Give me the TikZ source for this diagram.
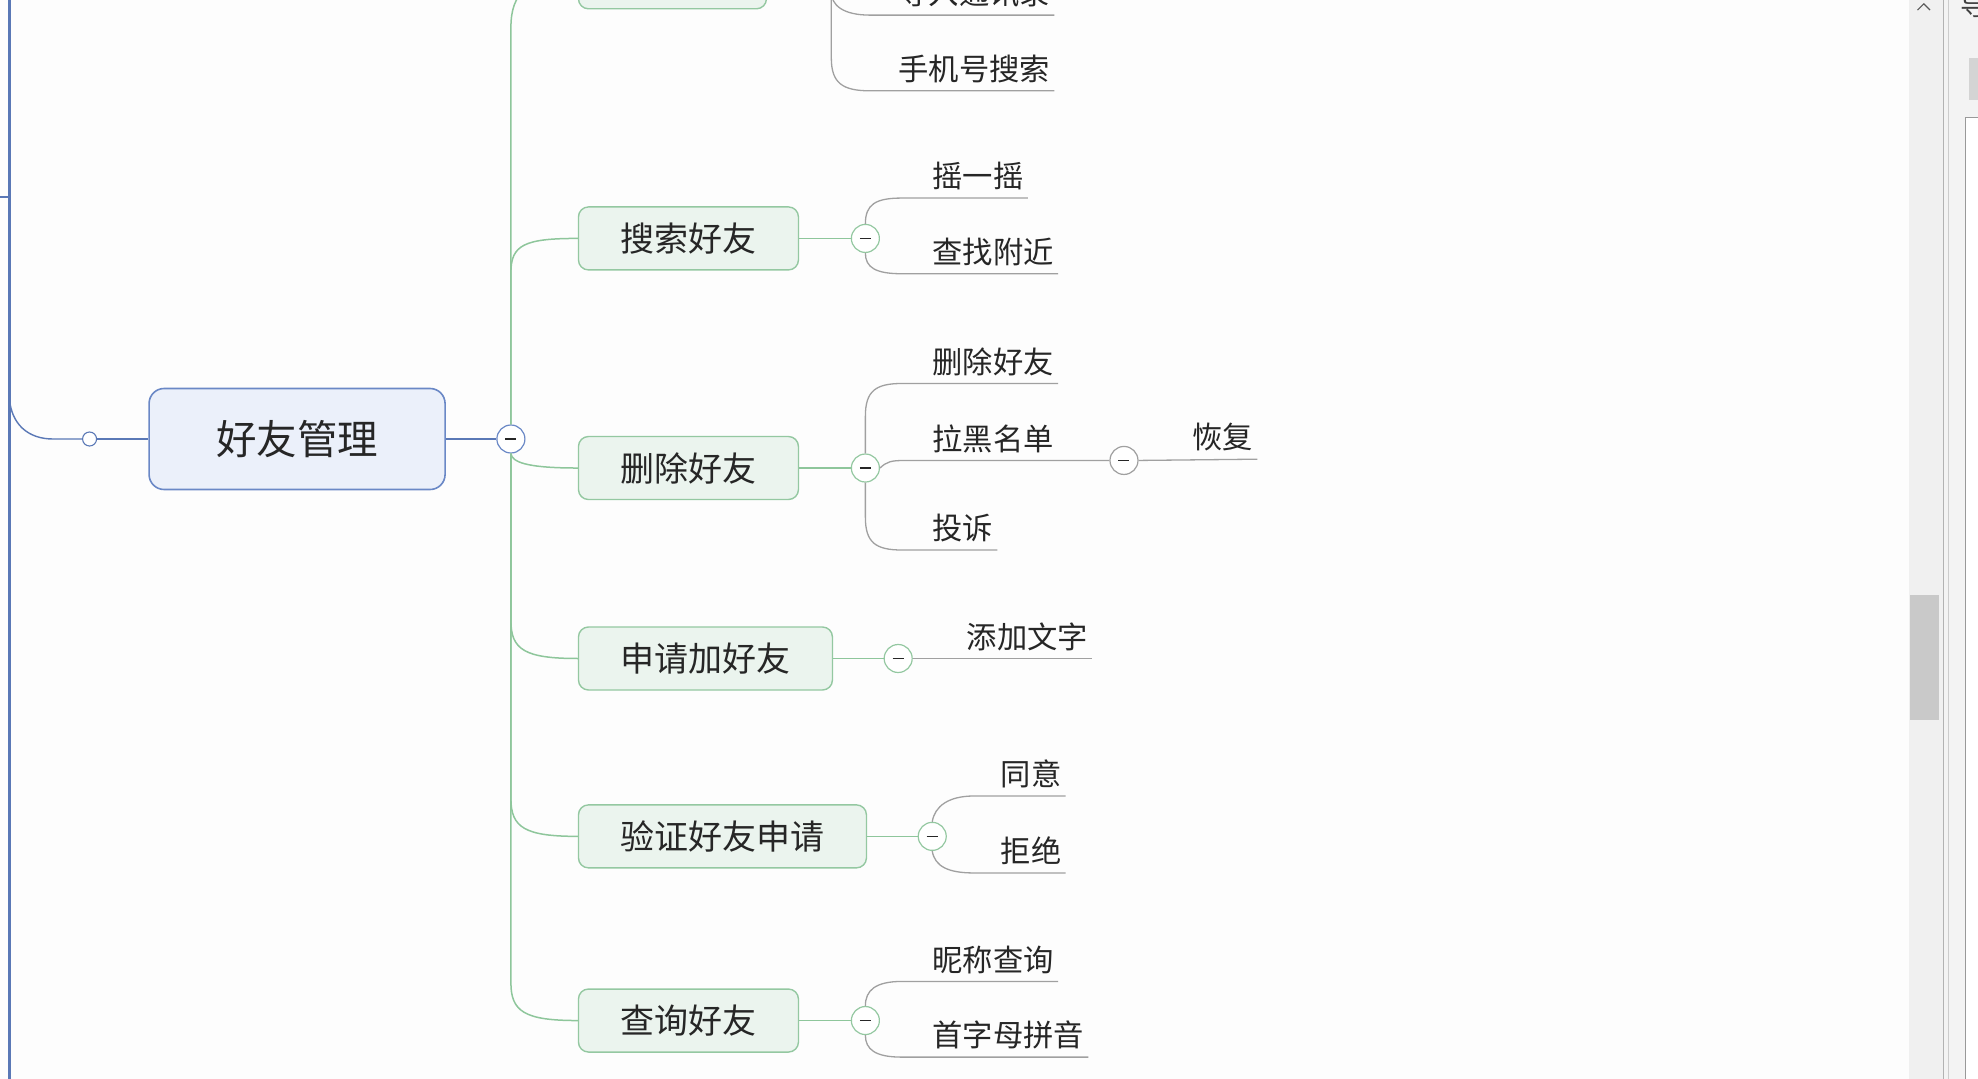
\documentclass[tikz,border=0pt]{standalone}
\usepackage{fontspec}
\newfontfamily\cjk{Noto Sans CJK SC}
\definecolor{paper}{HTML}{FDFDFD}
\definecolor{ink}{HTML}{262626}
\definecolor{rootfill}{HTML}{EBF0FA}
\definecolor{rootline}{HTML}{6A88C6}
\definecolor{spineblue}{HTML}{5A78B6}
\definecolor{topicfill}{HTML}{EBF4EE}
\definecolor{topicline}{HTML}{94C8A1}
\definecolor{branchgreen}{HTML}{8EC69B}
\definecolor{twiggrey}{HTML}{A0A0A0}
\definecolor{trackgrey}{HTML}{F0F0F0}
\definecolor{thumbgrey}{HTML}{C9C9C9}
\definecolor{panelgrey}{HTML}{F3F3F3}
\begin{document}
\begin{tikzpicture}[x=1.2615pt,y=-1.2615pt,
  root/.style={draw=rootline, fill=rootfill, line width=1.6pt, rounded corners=15pt,
    minimum width=296pt, minimum height=101pt, inner sep=0pt,
    font=\cjk\fontsize{40.5}{48}\selectfont, text=ink},
  topic/.style={draw=topicline, fill=topicfill, line width=1.4pt, rounded corners=10pt,
    minimum height=63pt, inner xsep=42pt, inner ysep=0pt, anchor=west,
    font=\cjk\fontsize{34}{40}\selectfont, text=ink},
  leaf/.style={anchor=south west, inner xsep=4pt, inner ysep=10pt, text depth=0pt,
    font=\cjk\fontsize{30.3}{36}\selectfont, text=ink},
  foldmark/.style={circle, draw=#1, fill=white, line width=1.2pt, minimum size=28pt,
    inner sep=0pt, path picture={\draw[ink, line width=1.5pt]
      ([xshift=-5.5pt]path picture bounding box.center) --
      ([xshift=5.5pt]path picture bounding box.center);}},
  dotmark/.style={circle, draw=spineblue, fill=white, line width=1.1pt,
    minimum size=14pt, inner sep=0pt},
  spine/.style={draw=spineblue, line width=1.4pt},
  trunk/.style={draw=branchgreen, line width=1.5pt},
  twig/.style={draw=twiggrey, line width=1.3pt}]

\useasboundingbox (0,0) rectangle (1568,855);
\fill[paper] (0,0) rectangle (1568,855);

\begin{scope}
\clip (0,0) rectangle (1568,855);

% parent spine on the far left
\draw[spine, line width=2.4pt] (7.5,-10) -- (7.5,870);
\draw[spine, line width=2pt] (0,156) -- (7.5,156);
\coordinate (sj) at (7.5,316);

% root topic
\node[root] (root) at (235.5,348) {好友管理};
\node[dotmark] (rd) at (71,348) {};
\node[foldmark=rootline] (rf) at (405,348) {};
\draw[spine] (sj) .. controls (9,336) and (22,348) .. (42,348) -- (rd.west);
\draw[spine] (rd.east) -- (root.west);
\draw[spine] (root.east) -- (rf.west);

% main topics
\node[topic, minimum width=188pt] (t0) at (458,-18) {};
\node[topic] (t1) at (458,189) {搜索好友};
\node[topic] (t2) at (458,371) {删除好友};
\node[topic] (t3) at (458,522) {申请加好友};
\node[topic] (t4) at (458,663) {验证好友申请};
\node[topic] (t5) at (458,809) {查询好友};

% trunk and branches
\draw[trunk] (rf.north) -- (405,22) .. controls (405,-6) and (418,-18) .. (t0.west);
\draw[trunk] (rf.north) -- (405,216) .. controls (405,194) and (416,189) .. (t1.west);
\draw[trunk] (rf.south) .. controls (406,366) and (416,371) .. (t2.west);
\draw[trunk] (rf.south) -- (405,492) .. controls (405,515) and (416,522) .. (t3.west);
\draw[trunk] (rf.south) -- (405,633) .. controls (405,656) and (416,663) .. (t4.west);
\draw[trunk] (rf.south) -- (405,779) .. controls (405,802) and (416,809) .. (t5.west);

% fold marks of the topics
\node[foldmark=topicline] (f0) at (659,-18) {};
\node[foldmark=topicline] (f1) at (686,189) {};
\node[foldmark=topicline] (f2) at (686,371) {};
\node[foldmark=topicline] (f3) at (712,522) {};
\node[foldmark=topicline] (f4) at (739,663) {};
\node[foldmark=topicline] (f5) at (686,809) {};
\foreach \i in {0,...,5} {\draw[trunk] (t\i.east) -- (f\i.west);}

% leaves
\node[leaf] (l01) at (709,12) {导入通讯录};
\node[leaf] (l02) at (709,72) {手机号搜索};
\node[leaf] (l11) at (736,157) {摇一摇};
\node[leaf] (l12) at (736,217) {查找附近};
\node[leaf] (l21) at (736,304) {删除好友};
\node[leaf] (l22) at (736,365) {拉黑名单};
\node[leaf] (l23) at (736,436) {投诉};
\node[leaf] (l31) at (763,522) {添加文字};
\node[leaf] (l41) at (790,631) {同意};
\node[leaf] (l42) at (790,692) {拒绝};
\node[leaf] (l51) at (736,778) {昵称查询};
\node[leaf] (l52) at (736,838) {首字母拼音};

% second-level fold mark and leaf
\node[foldmark=twiggrey] (g1) at (891,365) {};
\node[leaf] (l3) at (942,364) {恢复};

% leaf connectors
\draw[twig] (f0.south) .. controls (659,4) and (668,12) .. (690,12) -- (l01.south east);
\draw[twig] (f0.south) -- (659,46) .. controls (659,66) and (668,72) .. (690,72) -- (l02.south east);

\draw[twig] (f1.north) .. controls (686,162) and (694,157) .. (715,157) -- (l11.south east);
\draw[twig] (f1.south) .. controls (686,212) and (694,217) .. (715,217) -- (l12.south east);

\draw[twig] (f2.north) -- (686,330) .. controls (686,310) and (694,304) .. (715,304) -- (l21.south east);
\draw[twig] (f2.east) .. controls (703,366) and (706,365) .. (718,365) -- (g1.west);
\draw[twig] (f2.south) -- (686,410) .. controls (686,430) and (694,436) .. (715,436) -- (l23.south east);
\draw[twig] (g1.east) -- (l3.south east);

\draw[twig] (f3.east) -- (l31.south east);

\draw[twig] (f4.north) .. controls (741,639) and (752,631) .. (772,631) -- (l41.south east);
\draw[twig] (f4.south) .. controls (741,687) and (752,692) .. (772,692) -- (l42.south east);

\draw[twig] (f5.north) .. controls (686,785) and (694,778) .. (715,778) -- (l51.south east);
\draw[twig] (f5.south) .. controls (686,832) and (694,838) .. (715,838) -- (l52.south east);

% window edge: scroll bar and side panel
\fill[trackgrey] (1513,0) rectangle (1540,855);
\fill[thumbgrey] (1514,472) rectangle (1537,571);
\draw[black!65, line width=1.1pt] (1520,8) -- (1525,3) -- (1530,8);
\fill[panelgrey] (1541,0) rectangle (1568,855);
\draw[black!30, line width=1pt] (1541,0) -- (1541,855);
\draw[black!20, line width=1pt] (1544.5,0) -- (1544.5,855);
\node[anchor=north west, inner sep=0pt, text=black!75,
  font=\cjk\fontsize{28}{30}\selectfont] (ptitle) at (1554,-6) {导};
\fill[black!17] (1561,46) rectangle (1570,79);
\draw[black!40, fill=white, line width=1pt] (1558,93) rectangle (1575,870);
\end{scope}
\end{tikzpicture}
\end{document}
